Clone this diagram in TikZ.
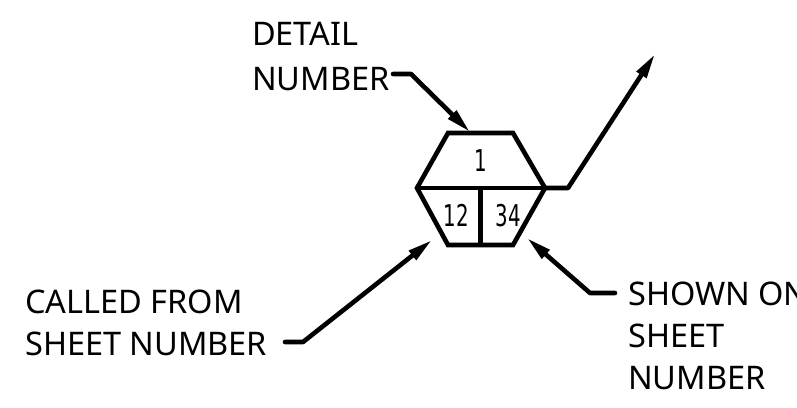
\documentclass[tikz,border=0pt]{standalone}
\usepackage{fontspec}
\setmainfont{Noto Sans}
\newfontfamily\digitfont{DejaVu Sans}
\usetikzlibrary{arrows.meta}
\tikzset{
  lbl/.style={anchor=base west,inner sep=0pt,font=\fontsize{32.5}{34}\selectfont},
  num/.style={anchor=base,inner sep=0pt,font=\digitfont\fontsize{30}{32}\selectfont,xscale=0.66},
  heavy/.style={line width=4.6pt,line join=miter,line cap=butt,black},
  leader/.style={line width=4.6pt,line join=round,line cap=round,black,-{Triangle[length=25pt,width=11pt]}}
}
\begin{document}
\begin{tikzpicture}[x=1pt,y=-1pt]
\useasboundingbox (0,0) rectangle (797,407);
\clip (0,0) rectangle (797,407);
% hexagon
\coordinate (tl) at (448,133);
\coordinate (tr) at (513,133);
\coordinate (r) at (545,188);
\coordinate (l) at (417,188);
\coordinate (bl) at (448,245);
\coordinate (br) at (513,245);
\coordinate (mt) at (480.5,188);
\coordinate (mb) at (480.5,245);
\draw[heavy] (tl) -- (tr) -- (r) -- (br) -- (bl) -- (l) -- cycle;
\draw[heavy] (l) -- (r);
\draw[heavy] (mt) -- (mb);
\node[num] (n1) at (480.5,171) {1};
\node[num] (n12) at (456,226.5) {12};
\node[num] (n34) at (508,226.5) {34};
% labels
\node[lbl] (detail) at (252,45) {DETAIL};
\node[lbl] (number) at (252,90) {NUMBER};
\node[lbl] (called) at (25,313) {CALLED FROM};
\node[lbl] (sheetnum) at (25,355) {SHEET NUMBER};
\node[lbl] (shown) at (628,305) {SHOWN ON};
\node[lbl] (sheet) at (628,347) {SHEET};
\node[lbl] (numb2) at (628,389) {NUMBER};
% leader points
\coordinate (a0) at (393,74);
\coordinate (a1) at (411,74);
\coordinate (a2) at (470,132);
\coordinate (b0) at (285,342);
\coordinate (b1) at (303,342);
\coordinate (b2) at (432,240);
\coordinate (c0) at (615,293);
\coordinate (c1) at (590,293);
\coordinate (c2) at (527,238);
\coordinate (d1) at (568,188);
\coordinate (d2) at (655,54);
\draw[leader] (a0) -- (a1) -- (a2);
\draw[leader] (b0) -- (b1) -- (b2);
\draw[leader] (c0) -- (c1) -- (c2);
\draw[leader] (r) -- (d1) -- (d2);
\end{tikzpicture}
\end{document}
